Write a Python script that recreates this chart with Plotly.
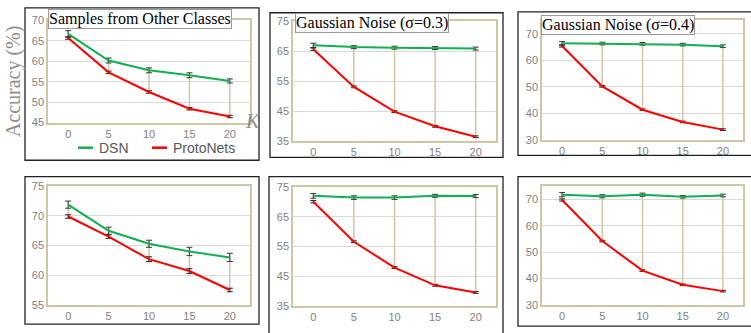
import plotly.graph_objects as go

W, H = 751, 333

K_LABELS = ["0", "5", "10", "15", "20"]

# panel data (DSN / ProtoNets accuracies, % ; and error half-widths)
dsn_top_other = [66.7, 60.2, 57.8, 56.6, 55.2]
proto_top_other = [65.7, 57.3, 52.5, 48.4, 46.5]
dsn_top_g03 = [67.0, 66.4, 66.2, 66.1, 65.9]
proto_top_g03 = [65.7, 53.1, 44.8, 39.9, 36.4]
dsn_top_g04 = [66.4, 66.3, 66.2, 65.9, 65.3]
proto_top_g04 = [65.4, 50.2, 41.4, 36.8, 33.9]
dsn_bot_other = [71.9, 67.5, 65.3, 64.0, 63.0]
proto_bot_other = [69.9, 66.5, 62.7, 60.7, 57.5]
dsn_bot_g03 = [72.1, 71.5, 71.5, 72.1, 72.0]
proto_bot_g03 = [70.1, 56.6, 47.9, 41.9, 39.5]
dsn_bot_g04 = [71.8, 71.2, 71.8, 71.0, 71.5]
proto_bot_g04 = [69.8, 54.2, 43.0, 37.6, 35.2]

err_dsn_top_other = [0.8, 0.6, 0.6, 0.6, 0.5]
err_proto_top_other = [0.3, 0.3, 0.3, 0.3, 0.3]
err_dsn_top_g03 = [0.7, 0.5, 0.5, 0.5, 0.5]
err_proto_top_g03 = [0.4, 0.3, 0.3, 0.3, 0.3]
err_dsn_top_g04 = [0.7, 0.5, 0.5, 0.5, 0.5]
err_proto_top_g04 = [0.4, 0.3, 0.3, 0.3, 0.3]
err_dsn_bot_other = [0.6, 0.6, 0.6, 0.7, 0.7]
err_proto_bot_other = [0.3, 0.3, 0.4, 0.4, 0.3]
err_dsn_bot_g03 = [0.8, 0.6, 0.6, 0.5, 0.5]
err_proto_bot_g03 = [0.4, 0.3, 0.3, 0.3, 0.3]
err_dsn_bot_g04 = [0.8, 0.6, 0.6, 0.5, 0.5]
err_proto_bot_g04 = [0.4, 0.3, 0.3, 0.3, 0.3]

TITLES = ["Samples from Other Classes", "Gaussian Noise (σ=0.3)", "Gaussian Noise (σ=0.4)", "", "", ""]

GREEN = "#10b050"
RED = "#ff0000"
BEIGE = "#cfc6a6"
GRID = "#d9d9d9"
TICKC = "#7f7f7f"


def px(x):
    return x / W


def py(y):
    return 1 - y / H


panels = [
    dict(d=dsn_top_other, p=proto_top_other, ed=err_dsn_top_other, ep=err_proto_top_other,
         area=(48, 250, 15, 121), yr=[45, 70], yt=[45, 50, 55, 60, 65, 70],
         box=(25, 259, 2, 160), title=(48, 3)),
    dict(d=dsn_top_g03, p=proto_top_g03, ed=err_dsn_top_g03, ep=err_proto_top_g03,
         area=(293, 496, 16, 140), yr=[35, 75], yt=[35, 45, 55, 65, 75],
         box=(270, 503, 7, 157), title=(295, 7)),
    dict(d=dsn_top_g04, p=proto_top_g04, ed=err_dsn_top_g04, ep=err_proto_top_g04,
         area=(542, 743, 15, 139), yr=[30, 75], yt=[30, 40, 50, 60, 70],
         box=(518, 760, 6, 155), title=(541, 9)),
    dict(d=dsn_bot_other, p=proto_bot_other, ed=err_dsn_bot_other, ep=err_proto_bot_other,
         area=(48, 250, 187, 310), yr=[55, 75], yt=[55, 60, 65, 70, 75],
         box=(25, 259, 177, 330), title=None),
    dict(d=dsn_bot_g03, p=proto_bot_g03, ed=err_dsn_bot_g03, ep=err_proto_bot_g03,
         area=(293, 496, 188, 311), yr=[35, 75], yt=[35, 45, 55, 65, 75],
         box=(269, 503, 177, 340), title=None),
    dict(d=dsn_bot_g04, p=proto_bot_g04, ed=err_dsn_bot_g04, ep=err_proto_bot_g04,
         area=(542, 743, 187, 310), yr=[30, 75], yt=[30, 40, 50, 60, 70],
         box=(518, 760, 177, 332), title=None),
]

fig = go.Figure()
xs = list(range(len(K_LABELS)))
layout_axes = {}
shapes = []
annotations = []

for i, pn in enumerate(panels):
    n = i + 1
    xa = "x" if n == 1 else f"x{n}"
    ya = "y" if n == 1 else f"y{n}"
    # hi-lo connecting lines
    hx, hy = [], []
    for k in xs:
        hx += [k, k, None]
        hy += [pn["d"][k] + pn["ed"][k], pn["p"][k] - pn["ep"][k], None]
    fig.add_trace(go.Scatter(x=hx, y=hy, mode="lines", line=dict(color=BEIGE, width=1.5),
                             xaxis=xa, yaxis=ya, showlegend=False, hoverinfo="skip"))
    fig.add_trace(go.Scatter(x=xs, y=pn["d"], mode="lines", line=dict(color=GREEN, width=2),
                             error_y=dict(type="data", array=pn["ed"], color="#3a3a3a", thickness=1, width=3),
                             xaxis=xa, yaxis=ya, name="DSN", showlegend=False))
    fig.add_trace(go.Scatter(x=xs, y=pn["p"], mode="lines", line=dict(color=RED, width=2),
                             error_y=dict(type="data", array=pn["ep"], color="#222222", thickness=1, width=3),
                             xaxis=xa, yaxis=ya, name="ProtoNets", showlegend=False))
    x0, x1, y0, y1 = pn["area"]
    layout_axes["xaxis" if n == 1 else f"xaxis{n}"] = dict(
        domain=[px(x0), px(x1)], anchor=ya, range=[-0.5, 4.5],
        tickvals=xs, ticktext=K_LABELS, showgrid=False, zeroline=False,
        showline=True, mirror=True, linecolor=BEIGE, linewidth=1.5,
        tickfont=dict(family="Liberation Sans", size=11, color=TICKC), ticks="", ticklen=0)
    layout_axes["yaxis" if n == 1 else f"yaxis{n}"] = dict(
        domain=[py(y1), py(y0)], anchor=xa, range=pn["yr"], tickvals=pn["yt"],
        showgrid=True, gridcolor=GRID, gridwidth=1, zeroline=False,
        showline=True, mirror=True, linecolor=BEIGE, linewidth=1.5,
        tickfont=dict(family="Liberation Sans", size=11, color=TICKC), ticks="", ticklen=0)
    bx0, bx1, by0, by1 = pn["box"]
    shapes.append(dict(type="rect", xref="paper", yref="paper", x0=px(bx0), x1=px(bx1),
                       y0=py(by1), y1=py(by0), line=dict(color="#222222", width=1.3)))
    if pn["title"]:
        tx, ty = pn["title"]
        annotations.append(dict(text=TITLES[i], xref="paper", yref="paper", x=px(tx), y=py(ty),
                                xanchor="left", yanchor="top", showarrow=False,
                                font=dict(family="Liberation Serif", size=16, color="black"),
                                bgcolor="white", bordercolor="#999999", borderwidth=1, borderpad=0))

# y-axis title and K label
annotations.append(dict(text="Accuracy (%)", xref="paper", yref="paper", x=px(13), y=py(78),
                        xanchor="center", yanchor="middle", textangle=-90, showarrow=False,
                        font=dict(family="Liberation Serif", size=20, color="#8c8c8c")))
annotations.append(dict(text="<i>K</i>", xref="paper", yref="paper", x=px(253), y=py(119),
                        xanchor="center", yanchor="middle",
                        showarrow=False, font=dict(family="Liberation Serif", size=20, color="#8c8c8c")))

# legend (manual)
for (lx, txt, col) in [(78, "DSN", GREEN), (152, "ProtoNets", RED)]:
    shapes.append(dict(type="line", xref="paper", yref="paper", x0=px(lx), x1=px(lx + 15),
                       y0=py(147), y1=py(147), line=dict(color=col, width=2.5)))
    annotations.append(dict(text=txt, xref="paper", yref="paper", x=px(lx + 19), y=py(147),
                            xanchor="left", yanchor="middle", showarrow=False,
                            font=dict(family="Liberation Sans", size=14, color="#595959")))

fig.update_layout(width=W, height=H, margin=dict(l=0, r=0, t=0, b=0),
                  paper_bgcolor="white", plot_bgcolor="white",
                  shapes=shapes, annotations=annotations, **layout_axes)

fig.write_html("out.html", config={"displayModeBar": False},
               post_script="document.body.style.margin='0';document.body.style.overflow='hidden';")
